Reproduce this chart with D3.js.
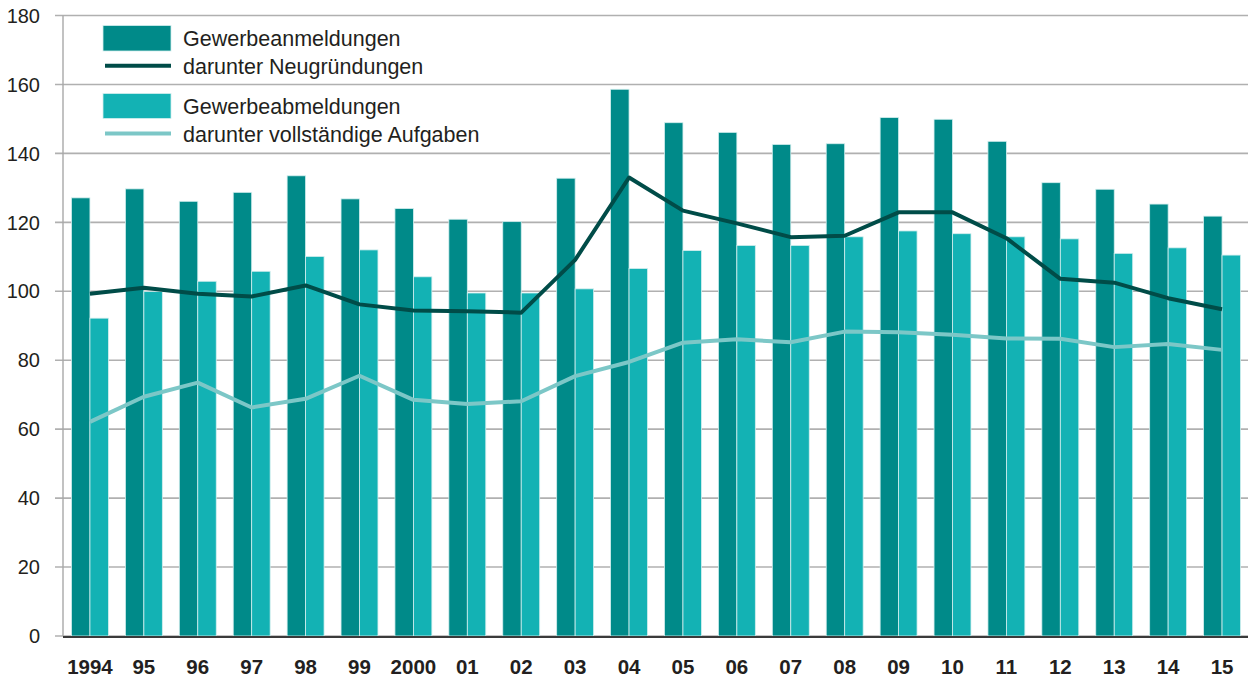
<!DOCTYPE html>
<html><head><meta charset="utf-8">
<script src="https://cdn.jsdelivr.net/npm/d3@7"></script>
<style>html,body{margin:0;padding:0;background:#fff;}svg{display:block;font-family:"Liberation Sans",Arial,Helvetica,sans-serif;}</style>
</head><body><svg id="c" width="1248" height="681"></svg>
<script>
const years = ["1994","95","96","97","98","99","2000","01","02","03","04","05","06","07","08","09","10","11","12","13","14","15"];
const anmeldungen = [127.1,129.7,126.1,128.7,133.5,126.8,124.0,120.9,120.2,132.8,158.6,148.9,146.1,142.6,142.8,150.4,149.9,143.5,131.5,129.6,125.3,121.8];
const abmeldungen = [92.2,99.9,102.9,105.8,110.1,112.0,104.2,99.5,99.5,100.7,106.6,111.8,113.3,113.3,115.8,117.5,116.7,115.8,115.2,111.0,112.6,110.5];
const neugruendungen = [99.3,101.0,99.3,98.5,101.7,96.2,94.4,94.2,93.8,109.1,133.0,123.4,119.7,115.7,116.1,122.9,122.9,115.4,103.6,102.5,98.0,94.8];
const aufgaben = [62.1,69.4,73.5,66.3,68.8,75.5,68.5,67.3,68.1,75.4,79.5,85.1,86.1,85.2,88.3,88.1,87.4,86.3,86.2,83.8,84.7,83.0];
const yTicks = [0,20,40,60,80,100,120,140,160,180];
const legendLabels = ["Gewerbeanmeldungen","darunter Neugründungen","Gewerbeabmeldungen","darunter vollständige Aufgaben"];

const colDark = "#008a89", colLight = "#13b2b4", colLineDark = "#004c48", colLineLight = "#7cc7c7", textCol = "#231f20";

const svg = d3.select("#c");
const x0 = 63, x1 = 1249;
const y = d3.scaleLinear().domain([0,180]).range([636,15.5]);
const x = d3.scaleBand().domain(years).range([x0,x1]).paddingInner(0.315).paddingOuter(0.1575);
const bw = x.bandwidth()/2;

// gridlines
svg.append("g").selectAll("line").data(yTicks).join("line")
  .attr("x1",55).attr("x2",1248).attr("y1",d=>y(d)).attr("y2",d=>y(d))
  .attr("stroke","#b0b0b0").attr("stroke-width",1.6);
// y labels
svg.append("g").selectAll("text").data(yTicks).join("text")
  .attr("x",40).attr("y",d=>y(d)).attr("dy","0.36em").attr("text-anchor","end")
  .attr("font-size",20).attr("fill",textCol).text(d=>d);
// left axis
svg.append("line").attr("x1",63).attr("x2",63).attr("y1",y(180)).attr("y2",y(0)).attr("stroke","#a8a8a8").attr("stroke-width",1.4);

// bars
svg.append("g").selectAll("rect").data(years).join("rect")
  .attr("x",d=>x(d)).attr("width",bw).attr("y",(d,i)=>y(anmeldungen[i])).attr("height",(d,i)=>y(0)-y(anmeldungen[i]))
  .attr("fill",colDark).attr("stroke","#d3eeee").attr("stroke-width",0.8);
svg.append("g").selectAll("rect").data(years).join("rect")
  .attr("x",d=>x(d)+bw).attr("width",bw).attr("y",(d,i)=>y(abmeldungen[i])).attr("height",(d,i)=>y(0)-y(abmeldungen[i]))
  .attr("fill",colLight).attr("stroke","#d3eeee").attr("stroke-width",0.8);

// axis bottom
svg.append("line").attr("x1",63).attr("x2",1248).attr("y1",y(0)+1).attr("y2",y(0)+1).attr("stroke","#3a3a3a").attr("stroke-width",2);

// lines
const line = vals => d3.line().x((d,i)=>x(years[i])+bw).y(d=>y(d))(vals);
svg.append("path").attr("d",line(aufgaben)).attr("fill","none").attr("stroke",colLineLight).attr("stroke-width",4).attr("stroke-linejoin","round");
svg.append("path").attr("d",line(neugruendungen)).attr("fill","none").attr("stroke",colLineDark).attr("stroke-width",4).attr("stroke-linejoin","round");

// x labels
svg.append("g").selectAll("text").data(years).join("text")
  .attr("x",d=>x(d)+bw).attr("y",674).attr("text-anchor","middle")
  .attr("font-size",20.5).attr("font-weight","bold").attr("fill",textCol).text(d=>d);

// legend
const lg = svg.append("g");
lg.append("rect").attr("x",103).attr("y",25.5).attr("width",68).attr("height",25.5).attr("fill",colDark).attr("stroke","#d3eeee").attr("stroke-width",0.8);
lg.append("line").attr("x1",105).attr("x2",171).attr("y1",65.7).attr("y2",65.7).attr("stroke",colLineDark).attr("stroke-width",4);
lg.append("rect").attr("x",103).attr("y",93.5).attr("width",68).attr("height",25).attr("fill",colLight).attr("stroke","#d3eeee").attr("stroke-width",0.8);
lg.append("line").attr("x1",105).attr("x2",171).attr("y1",133.5).attr("y2",133.5).attr("stroke",colLineLight).attr("stroke-width",4);
const ly = [46,74,114,142];
lg.selectAll("text").data(legendLabels).join("text")
  .attr("x",183).attr("y",(d,i)=>ly[i]).attr("font-size",21.5).attr("fill",textCol).text(d=>d);
</script></body></html>
